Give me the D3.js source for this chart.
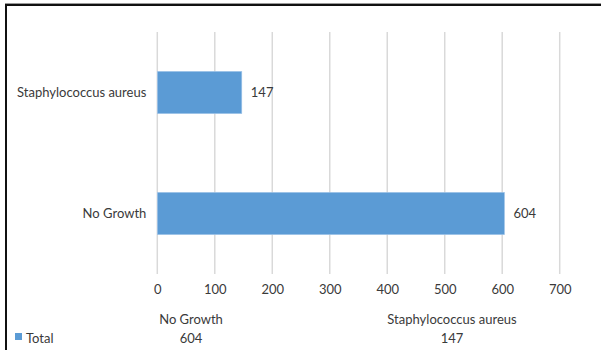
<!DOCTYPE html>
<html>
<head>
<meta charset="utf-8">
<script src="https://cdn.jsdelivr.net/npm/d3@7"></script>
<style>
  html, body { margin: 0; padding: 0; background: #fff; }
  svg { display: block; }
  text { font-family: Lato, "Open Sans", sans-serif; fill: #3a3a3a; }
</style>
</head>
<body>
<svg id="chart" width="601" height="350"></svg>
<script>
// Categories as listed in the data table (first row first)
const categories = ["No Growth", "Staphylococcus aureus"];
// Series "Total"
const seriesName = "Total";
const totals = [604, 147];
// Value axis ticks
const xTicks = [0, 100, 200, 300, 400, 500, 600, 700];

const svg = d3.select("#chart");
const W = 601, H = 350;
const FS = 13;

// Frame lines (top and left)
svg.append("line").attr("x1", 5).attr("x2", W).attr("y1", 3.5).attr("y2", 3.5)
  .attr("stroke", "#9a9a9a").attr("stroke-width", 1);
svg.append("line").attr("x1", 5).attr("x2", W).attr("y1", 5).attr("y2", 5)
  .attr("stroke", "#111").attr("stroke-width", 2);
svg.append("line").attr("x1", 6).attr("x2", 6).attr("y1", 4).attr("y2", H)
  .attr("stroke", "#111").attr("stroke-width", 2);

const plot = { left: 157.3, right: 559.7, top: 32, bottom: 274 };

const x = d3.scaleLinear().domain([0, 700]).range([plot.left, plot.right]);
// Bars are drawn bottom-up: first category at the bottom
const y = d3.scaleBand().domain(categories.slice().reverse())
  .range([plot.top, plot.bottom]).paddingInner(0.65).paddingOuter(0.325);

// Vertical gridlines
svg.append("g").selectAll("line").data(xTicks).join("line")
  .attr("x1", d => x(d)).attr("x2", d => x(d))
  .attr("y1", plot.top).attr("y2", plot.bottom)
  .attr("stroke", "#d9d9d9").attr("stroke-width", 1.5);

// Bars
svg.append("g").selectAll("rect").data(categories).join("rect")
  .attr("x", x(0))
  .attr("y", d => y(d))
  .attr("width", (d, i) => x(totals[i]) - x(0))
  .attr("height", y.bandwidth())
  .attr("fill", "#5b9bd5")
  .attr("stroke", "#a8c8ea").attr("stroke-width", 0.6);

// Value labels
svg.append("g").selectAll("text").data(categories).join("text")
  .attr("x", (d, i) => x(totals[i]) + 9)
  .attr("y", d => y(d) + y.bandwidth() / 2)
  .attr("dy", "0.35em")
  .attr("font-size", FS)
  .text((d, i) => totals[i]);

// Category axis labels
const yAxis = d3.axisLeft(y).tickSize(0).tickPadding(11);
const gy = svg.append("g").attr("transform", `translate(${plot.left},0)`).call(yAxis);
gy.select(".domain").remove();
gy.selectAll("text").attr("font-size", FS).attr("fill", "#3a3a3a")
  .style("font-family", "Lato, 'Open Sans', sans-serif");

// Value axis labels
const xAxis = d3.axisBottom(x).tickValues(xTicks).tickSize(0).tickPadding(11);
const gx = svg.append("g").attr("transform", `translate(0,${plot.bottom})`).call(xAxis);
gx.select(".domain").remove();
gx.selectAll("text").attr("font-size", FS).attr("fill", "#3a3a3a")
  .style("font-family", "Lato, 'Open Sans', sans-serif");

// Data table under the chart
const col = d3.scaleBand().domain(categories).range([60.5, 582.5]);
svg.append("g").selectAll("text").data(categories).join("text")
  .attr("x", d => col(d) + col.bandwidth() / 2)
  .attr("y", 319).attr("dy", "0.35em")
  .attr("text-anchor", "middle").attr("font-size", FS)
  .text(d => d);
svg.append("g").selectAll("text").data(categories).join("text")
  .attr("x", d => col(d) + col.bandwidth() / 2)
  .attr("y", 338).attr("dy", "0.35em")
  .attr("text-anchor", "middle").attr("font-size", FS)
  .text((d, i) => totals[i]);

// Legend key for the series row
svg.append("rect").attr("x", 15).attr("y", 333).attr("width", 7).attr("height", 7)
  .attr("fill", "#5b9bd5");
svg.append("text").attr("x", 26).attr("y", 338).attr("dy", "0.35em")
  .attr("font-size", FS).text(seriesName);
</script>
</body>
</html>
